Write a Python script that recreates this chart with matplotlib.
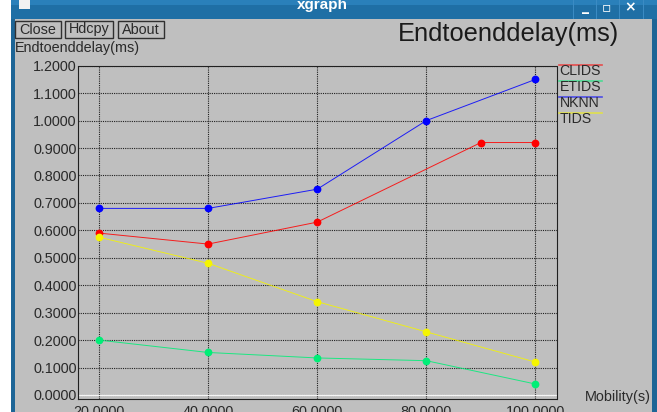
import matplotlib
matplotlib.use("Agg")
import matplotlib.pyplot as plt
from matplotlib.patches import Rectangle
from matplotlib.lines import Line2D

# ---- data -------------------------------------------------------------
mobility = [20, 40, 60, 80, 100]
clids_x = [20, 40, 60, 90, 100]
clids = [0.59, 0.55, 0.63, 0.92, 0.92]
etids = [0.20, 0.155, 0.135, 0.125, 0.04]
nknn = [0.68, 0.68, 0.75, 1.00, 1.15]
tids = [0.575, 0.48, 0.34, 0.23, 0.12]
series_names = ["CLIDS", "ETIDS", "NKNN", "TIDS"]
yticks = [i / 10 for i in range(13)]

W, H = 657, 412
BG = "#bfbfbf"
TXT = "#2a2a2a"
FONT = ["Liberation Sans", "DejaVu Sans"]
plt.rcParams["font.family"] = FONT

fig = plt.figure(figsize=(W / 100, H / 100), dpi=100)
fig.patch.set_facecolor(BG)


def fx(x):
    return x / W


def fy(y):
    return 1 - y / H


def rect(x0, y0, x1, y1, **kw):
    fig.patches.append(Rectangle((fx(x0), fy(y1)), (x1 - x0) / W, (y1 - y0) / H,
                                 transform=fig.transFigure, **kw))


# window frame
rect(0, 0, 11, H, facecolor="white", edgecolor="none")
rect(11, 0, 15, H, facecolor="#1d6596", edgecolor="none")
rect(652, 0, 657, H, facecolor="#1d6596", edgecolor="none")
rect(11, 0, 657, 19, facecolor="#1f6fa5", edgecolor="none")
rect(11, 0, 657, 5, facecolor="#2a80ba", edgecolor="none")
rect(19, 0, 30, 9, facecolor="#f2f2f2", edgecolor="none")
fig.text(fx(322), fy(5), "xgraph", color="white", fontsize=11, fontweight="bold",
         ha="center", va="center")
for bx, sym in [(585, "_"), (606, "\u25ab"), (630, "\u00d7")]:
    fig.text(fx(bx), fy(7), sym, color="white", fontsize=10, fontweight="bold",
             ha="center", va="center", family=["DejaVu Sans"])
for sx in [573, 596, 619, 643]:
    fig.lines.append(Line2D([fx(sx), fx(sx)], [fy(0), fy(18)], transform=fig.transFigure,
                            color="#3c8cc4", lw=0.7))

# buttons
for x0, x1, label in [(15, 61, "Close"), (65, 113, "Hdcpy"), (118, 164, "About")]:
    rect(x0, 21, x1, 38, facecolor=BG, edgecolor="#303030", lw=1.0)
    fig.text(fx((x0 + x1) / 2), fy(29.5), label, color=TXT, fontsize=10.4,
             ha="center", va="center")

# titles
fig.text(fx(398), fy(34), "Endtoenddelay(ms)", color="#1a1a1a", fontsize=18.3,
         ha="left", va="center")
fig.text(fx(15), fy(48), "Endtoenddelay(ms)", color=TXT, fontsize=10.4,
         ha="left", va="center")
fig.text(fx(651), fy(397), "Mobility(s)", color=TXT, fontsize=10.4,
         ha="right", va="center")

# ---- plot area -------------------------------------------------------
L, R, T, B = 78, 557, 65.7, 399
ax = fig.add_axes([fx(L), fy(B), (R - L) / W, (B - T) / H])
ax.set_facecolor(BG)
ax.set_xlim(16.15, 103.95)
ax.set_ylim(-0.0146, 1.2)

dots = (0, (1, 1))
for v in mobility:
    ax.axvline(v, color="#202020", lw=0.8, ls=dots, zorder=1)
for v in yticks:
    ax.axhline(v, color="#202020", lw=0.8, ls=dots, zorder=1)
ax.axhline(0, color="#f4f4f4", lw=1.0, zorder=1.5)
for sp in ax.spines.values():
    sp.set_linestyle(dots)
    sp.set_color("#202020")
    sp.set_linewidth(0.8)

ax.set_xticks(mobility)
ax.set_xticklabels([f"{v:.4f}" for v in mobility])
ax.set_yticks(yticks)
ax.set_yticklabels([f"{v:.4f}" for v in yticks])
ax.tick_params(length=0, labelsize=10.4, colors=TXT, pad=1)
ax.tick_params(axis="x", pad=4)

colors = {"CLIDS": "#ff0000", "ETIDS": "#00ee77", "NKNN": "#0000ff", "TIDS": "#f5f500"}
data = {"CLIDS": (clids_x, clids), "ETIDS": (mobility, etids),
        "NKNN": (mobility, nknn), "TIDS": (mobility, tids)}
for name in series_names:
    xs, ys = data[name]
    ax.plot(xs, ys, color=colors[name], lw=0.7, alpha=0.85, zorder=3, clip_on=False)
    ax.plot(xs, ys, ls="none", color=colors[name], marker="o", ms=5.6,
            markeredgewidth=0, zorder=4, clip_on=False)

# legend drawn beside the plot box
for i, name in enumerate(series_names):
    ly = 64.7 + 16 * i
    fig.lines.append(Line2D([fx(559), fx(602)], [fy(ly), fy(ly)], transform=fig.transFigure,
                            color=colors[name], lw=1.2, alpha=0.6))
    fig.text(fx(559.5), fy(ly + 6), name, color=TXT, fontsize=10.2, ha="left", va="center")

fig.savefig("out.png", dpi=100, facecolor=BG)
